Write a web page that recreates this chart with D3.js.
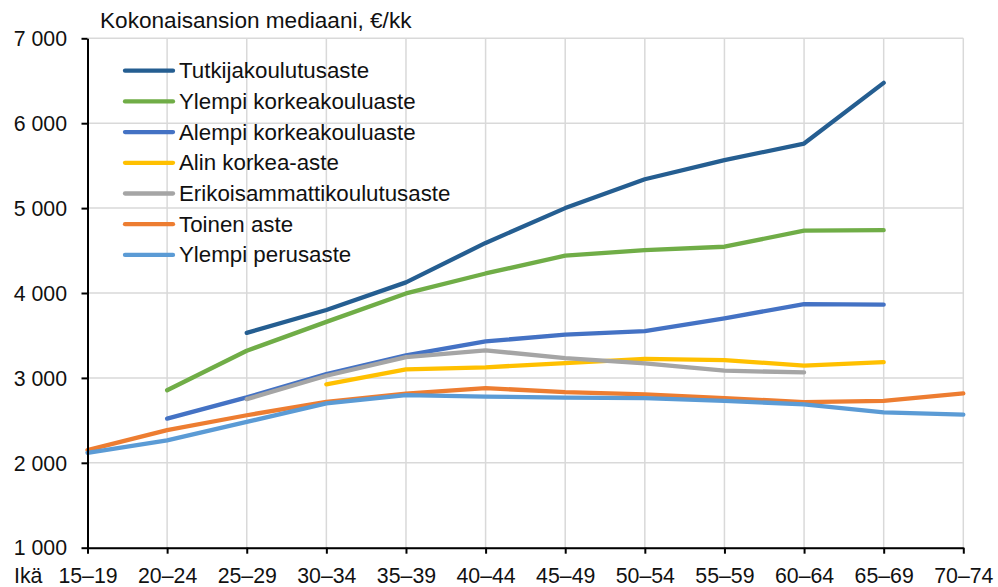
<!DOCTYPE html>
<html lang="fi">
<head>
<meta charset="utf-8">
<script src="https://cdn.jsdelivr.net/npm/d3@7"></script>
<style>
  html, body { margin: 0; padding: 0; background: #fff; }
  svg { display: block; font-family: "Liberation Sans", Arial, sans-serif; }
</style>
</head>
<body>
<svg id="chart" width="998" height="587"></svg>
<script>
// Ikäryhmät (x-akseli)
const ageGroups = ["15–19", "20–24", "25–29", "30–34", "35–39", "40–44",
                   "45–49", "50–54", "55–59", "60–64", "65–69", "70–74"];

// Y-akselin jakoviivat
const yTicks = [1000, 2000, 3000, 4000, 5000, 6000, 7000];

// Sarjojen nimet ja värit
const seriesNames = ["Tutkijakoulutusaste", "Ylempi korkeakouluaste", "Alempi korkeakouluaste",
                     "Alin korkea-aste", "Erikoisammattikoulutusaste", "Toinen aste", "Ylempi perusaste"];
const seriesColors = ["#255E91", "#70AD47", "#4472C4", "#FFC000", "#A5A5A5", "#ED7D31", "#5B9BD5"];

// Kokonaisansion mediaani, €/kk (null = ei tietoa)
const tutkija    = [null, null, 3530, 3800, 4125, 4590, 5000, 5340, 5565, 5760, 6475, null];
const ylempiKk   = [null, 2855, 3320, 3660, 3995, 4230, 4440, 4505, 4545, 4735, 4740, null];
const alempiKk   = [null, 2520, 2770, 3045, 3265, 3430, 3510, 3550, 3700, 3870, 3862, null];
const alinKa     = [null, null, null, 2925, 3100, 3125, 3175, 3225, 3210, 3145, 3185, null];
const erikoisAm  = [null, null, 2750, 3025, 3245, 3325, 3232, 3172, 3085, 3065, null, null];
const toinenAste = [2150, 2385, 2560, 2718, 2815, 2880, 2832, 2805, 2762, 2715, 2730, 2818];
const ylempiPer  = [2118, 2265, 2482, 2700, 2798, 2780, 2767, 2762, 2730, 2688, 2595, 2567];

const seriesValues = [tutkija, ylempiKk, alempiKk, alinKa, erikoisAm, toinenAste, ylempiPer];

const svg = d3.select("#chart");
const plotLeft = 87.5, plotRight = 963.3, plotTop = 38.3, plotBottom = 547.7;
const textColor = "#111";

const x = d3.scalePoint().domain(ageGroups).range([plotLeft, plotRight]).padding(0);
const y = d3.scaleLinear().domain([1000, 7000]).range([plotBottom, plotTop]);

const fi = d3.formatLocale({ decimal: ",", thousands: "\u00a0", grouping: [3], currency: ["", "€"] });
const fmt = fi.format(",d");

// Ruudukko
const grid = svg.append("g").attr("stroke", "#d9d9d9").attr("stroke-width", 1.5);
grid.selectAll("line.h").data(yTicks).join("line")
  .attr("class", "h")
  .attr("x1", plotLeft).attr("x2", plotRight)
  .attr("y1", d => y(d)).attr("y2", d => y(d));
grid.selectAll("line.v").data(ageGroups.slice(1)).join("line")
  .attr("class", "v")
  .attr("x1", d => x(d)).attr("x2", d => x(d))
  .attr("y1", plotTop).attr("y2", plotBottom);

// Viivat
const line = d3.line()
  .defined(d => d.v != null)
  .x(d => x(d.age))
  .y(d => y(d.v));

svg.append("g").selectAll("path").data(seriesValues).join("path")
  .attr("fill", "none")
  .attr("stroke", (d, i) => seriesColors[i])
  .attr("stroke-width", 4.3)
  .attr("stroke-linejoin", "round")
  .attr("stroke-linecap", "round")
  .attr("d", vals => line(vals.map((v, j) => ({ age: ageGroups[j], v }))));

// Y-akseli
const yAxis = svg.append("g")
  .attr("transform", `translate(${plotLeft},0)`)
  .call(d3.axisLeft(y).tickValues(yTicks).tickFormat(fmt).tickSize(6).tickSizeOuter(0).tickPadding(14.5));
yAxis.select(".domain").attr("stroke", "#000").attr("stroke-width", 2);
yAxis.selectAll(".tick line").attr("stroke", "#000").attr("stroke-width", 2);
yAxis.selectAll(".tick text")
  .attr("fill", textColor)
  .style("font-size", "21.3px")
  .attr("dy", "0.34em");

// X-akseli
const xAxis = svg.append("g")
  .attr("transform", `translate(0,${plotBottom})`)
  .call(d3.axisBottom(x).tickSize(6).tickSizeOuter(0));
xAxis.select(".domain").attr("stroke", "#000").attr("stroke-width", 2);
xAxis.selectAll(".tick line").attr("stroke", "#000").attr("stroke-width", 2);
xAxis.selectAll(".tick text")
  .attr("fill", textColor)
  .style("font-size", "21.3px")
  .attr("y", 35.3)
  .attr("dy", 0);

svg.append("text")
  .attr("x", 14).attr("y", plotBottom + 35.3)
  .attr("fill", textColor)
  .style("font-size", "21.3px")
  .text("Ikä");

// Otsikko
svg.append("text")
  .attr("x", 100).attr("y", 28.3)
  .attr("fill", textColor)
  .style("font-size", "22.6px")
  .text("Kokonaisansion mediaani, €/kk");

// Selite
const legend = svg.append("g");
const legendItems = legend.selectAll("g").data(seriesNames).join("g")
  .attr("transform", (d, i) => `translate(0,${70.7 + i * 30.7})`);
legendItems.append("line")
  .attr("x1", 125).attr("x2", 173)
  .attr("y1", 0).attr("y2", 0)
  .attr("stroke", (d, i) => seriesColors[i])
  .attr("stroke-width", 4.3)
  .attr("stroke-linecap", "round");
legendItems.append("text")
  .attr("x", 179).attr("y", 7.5)
  .attr("fill", textColor)
  .style("font-size", "22.3px")
  .text(d => d);
</script>
</body>
</html>
